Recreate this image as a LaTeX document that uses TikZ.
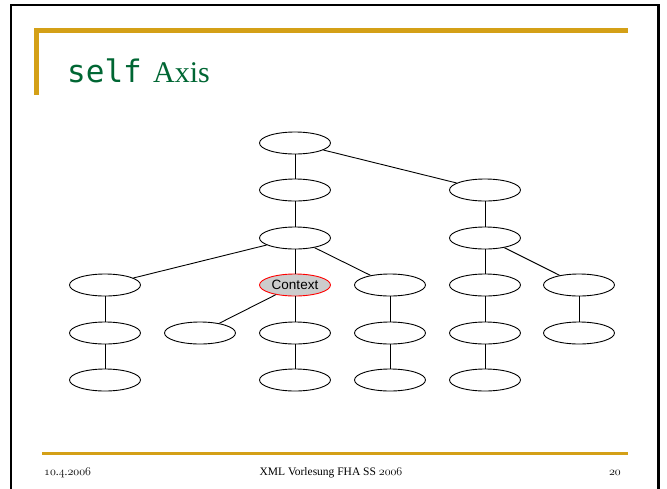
\documentclass[tikz,border=0pt]{standalone}
\usepackage{fontspec}
\setmainfont{Liberation Serif}
\newfontfamily\arialfont{Liberation Sans}
\newfontfamily\slidemono{DejaVu Sans Mono}
\usetikzlibrary{shapes.geometric}
\definecolor{slidegold}{RGB}{212,160,23}
\definecolor{titlegreen}{RGB}{0,102,51}
\definecolor{ctxgrey}{RGB}{204,204,204}
\newcommand\myosnum[1]{{\fontencoding{OML}\fontfamily{cmm}\fontseries{m}\fontshape{it}\selectfont #1}}
\tikzset{
  tnode/.style={ellipse, draw=black, line width=0.9pt, fill=white,
    minimum width=71pt, minimum height=22pt, inner sep=0pt},
  ctxnode/.style={tnode, fill=ctxgrey, draw=red, font=\arialfont\fontsize{13.5}{15}\selectfont},
  edge/.style={draw=black, line width=0.9pt},
  footertext/.style={font=\fontsize{11.5}{13}\selectfont, anchor=base, inner sep=0pt}
}
\begin{document}
\begin{tikzpicture}[x=1pt,y=-1pt]
\useasboundingbox (0,0) rectangle (667,488);
% frame
\draw[line width=2.6pt, black] (11,500) -- (11,5) -- (658.5,5) -- (658.5,500);
% title bars
\fill[slidegold] (34,28.3) rectangle (627.5,32.7);
\fill[slidegold] (34,28.3) rectangle (38.5,95);
% title
\node[anchor=base west, inner sep=0pt, text=titlegreen, font=\slidemono\fontsize{31}{33}\selectfont] (t1) at (67,82) {self};
\node[anchor=base west, inner sep=0pt, text=titlegreen, font=\fontsize{30}{32}\selectfont] (t2) at (153,82) {Axis};
% footer
\fill[slidegold] (42,452.3) rectangle (627.5,455.2);
\node[footertext, anchor=base west] (f1) at (44,475) {\myosnum{10}.\myosnum{4}.\myosnum{2006}};
\node[footertext] (f2) at (331,475) {XML Vorlesung FHA SS \myosnum{2006}};
\node[footertext, anchor=base east] (f3) at (621,475) {\myosnum{20}};
% tree nodes
\node[tnode] (r) at (295,143) {};
\node[tnode] (a1) at (295,190) {};
\node[tnode] (a2) at (295,238) {};
\node[tnode] (b1) at (485,190) {};
\node[tnode] (b2) at (485,238) {};
\node[tnode] (c1) at (105,285) {};
\node[ctxnode] (ctx) at (295,285) {Context};
\node[tnode] (c3) at (390,285) {};
\node[tnode] (c4) at (485,285) {};
\node[tnode] (c5) at (579,285) {};
\node[tnode] (d1) at (105,333) {};
\node[tnode] (d2) at (200,333) {};
\node[tnode] (d3) at (295,333) {};
\node[tnode] (d4) at (390,333) {};
\node[tnode] (d5) at (485,333) {};
\node[tnode] (d6) at (579,333) {};
\node[tnode] (e1) at (105,380) {};
\node[tnode] (e3) at (295,380) {};
\node[tnode] (e4) at (390,380) {};
\node[tnode] (e5) at (485,380) {};
% edges
\foreach \u/\v in {r/a1, r/b1, a1/a2, a2/c1, a2/ctx, a2/c3, b1/b2, b2/c4, b2/c5,
  c1/d1, ctx/d2, ctx/d3, c3/d4, c4/d5, c5/d6, d1/e1, d3/e3, d4/e4, d5/e5}
  \draw[edge] (\u) -- (\v);
\end{tikzpicture}
\end{document}
